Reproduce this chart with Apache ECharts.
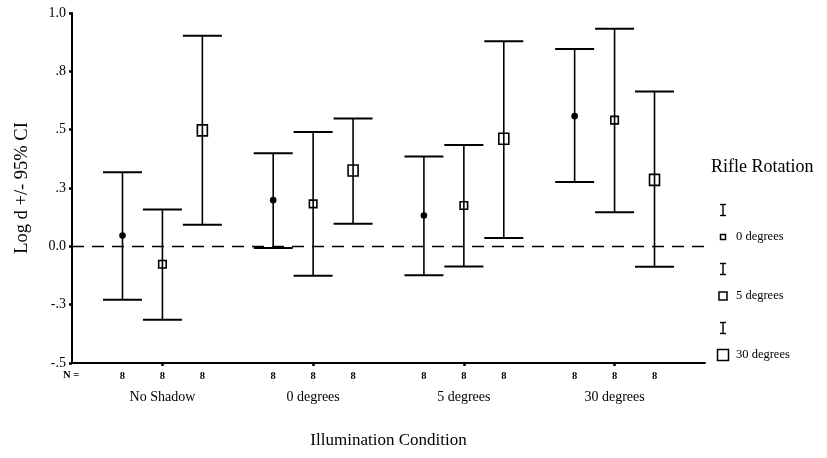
<!DOCTYPE html>
<html><head><meta charset="utf-8">
<script src="https://cdn.jsdelivr.net/npm/echarts@6/dist/echarts.min.js"></script>
<style>html,body{margin:0;padding:0;background:#fff}#c{width:827px;height:458px}</style>
</head><body><div id="c"></div>
<script>
// ---- data ----
const groups = ['No Shadow', '0 degrees', '5 degrees', '30 degrees'];
const rotations = ['0 degrees', '5 degrees', '30 degrees'];
const mean0  = [0.046, 0.198, 0.132, 0.558];
const lower0 = [-0.229, -0.007, -0.124, 0.276];
const upper0 = [0.318, 0.399, 0.385, 0.846];
const mean5  = [-0.077, 0.182, 0.175, 0.541];
const lower5 = [-0.315, -0.126, -0.086, 0.146];
const upper5 = [0.158, 0.490, 0.434, 0.932];
const mean30  = [0.497, 0.325, 0.461, 0.285];
const lower30 = [0.093, 0.097, 0.036, -0.088];
const upper30 = [0.902, 0.548, 0.879, 0.664];
const nCounts0 = [8, 8, 8, 8];
const nCounts5 = [8, 8, 8, 8];
const nCounts30 = [8, 8, 8, 8];
const yTickLabels = ['-.5', '-.3', '0.0', '.3', '.5', '.8', '1.0'];

// ---- build ----
const FONT = "'Liberation Serif','DejaVu Serif',serif";
const seriesSets = [
  [mean0, lower0, upper0, nCounts0],
  [mean5, lower5, upper5, nCounts5],
  [mean30, lower30, upper30, nCounts30]
];
const data = [];
seriesSets.forEach((s, r) => {
  groups.forEach((g, i) => {
    data.push([i + 1, r, s[0][i], s[1][i], s[2][i], s[3][i]]);
  });
});
const OFFSET = 0.265; // within-group spacing in axis units
const CAP = 19.5;

function renderItem(params, api) {
  const g = api.value(0), r = api.value(1);
  const x = g + (r - 1) * OFFSET;
  const pm = api.coord([x, api.value(2)]);
  const pl = api.coord([x, api.value(3)]);
  const pu = api.coord([x, api.value(4)]);
  const pb = api.coord([x, -0.5]);
  const ls = { stroke: '#000', lineWidth: 1.6 };
  const children = [
    { type: 'line', shape: { x1: pu[0], y1: pu[1], x2: pl[0], y2: pl[1] }, style: ls },
    { type: 'line', shape: { x1: pu[0] - CAP, y1: pu[1], x2: pu[0] + CAP, y2: pu[1] }, style: { stroke: '#000', lineWidth: 2 } },
    { type: 'line', shape: { x1: pl[0] - CAP, y1: pl[1], x2: pl[0] + CAP, y2: pl[1] }, style: { stroke: '#000', lineWidth: 2 } },
    { type: 'text', style: { x: pb[0], y: pb[1] + 13, text: String(api.value(5)), textAlign: 'center', textVerticalAlign: 'middle', font: 'bold 10.5px ' + FONT, fill: '#000' } }
  ];
  if (r === 0) {
    children.push({ type: 'circle', shape: { cx: pm[0], cy: pm[1], r: 3.3 }, style: { fill: '#000' } });
  } else {
    const w = r === 1 ? 7.5 : 10, h = r === 1 ? 7.5 : 11;
    children.push({ type: 'rect', shape: { x: pm[0] - w / 2, y: pm[1] - h / 2, width: w, height: h }, style: { fill: 'rgba(255,255,255,0)', stroke: '#000', lineWidth: 1.6 } });
  }
  return { type: 'group', children };
}

// legend graphics
const legendG = [
  { type: 'text', left: 711, top: 158, style: { text: 'Rifle Rotation', font: '18px ' + FONT, fill: '#000' } }
];
const legIY = [210, 269, 328];
const legSY = [237, 296, 355];
const legSize = [5, 8, 11];
rotations.forEach((name, r) => {
  const iy = legIY[r], sy = legSY[r], s = legSize[r];
  legendG.push({ type: 'line', shape: { x1: 723, y1: iy - 5.5, x2: 723, y2: iy + 5.5 }, style: { stroke: '#000', lineWidth: 1.4 } });
  legendG.push({ type: 'line', shape: { x1: 720, y1: iy - 5.5, x2: 726, y2: iy - 5.5 }, style: { stroke: '#000', lineWidth: 1.4 } });
  legendG.push({ type: 'line', shape: { x1: 720, y1: iy + 5.5, x2: 726, y2: iy + 5.5 }, style: { stroke: '#000', lineWidth: 1.4 } });
  legendG.push({ type: 'rect', shape: { x: 723 - s / 2, y: sy - s / 2, width: s, height: s }, style: { fill: '#fff', stroke: '#000', lineWidth: 1.5 } });
  legendG.push({ type: 'text', left: 736, top: sy - 7, style: { text: name, font: '12.5px ' + FONT, fill: '#000' } });
});
legendG.push({ type: 'text', left: 63, top: 370, style: { text: 'N =', font: 'bold 10.5px ' + FONT, fill: '#000' } });

const chart = echarts.init(document.getElementById('c'), null, { renderer: 'canvas' });
chart.setOption({
  animation: false,
  backgroundColor: '#fff',
  grid: { left: 72, right: 122, top: 13, bottom: 95, containLabel: false },
  xAxis: {
    type: 'value', min: 0.4, max: 4.6,
    name: 'Illumination Condition', nameLocation: 'middle', nameGap: 69,
    nameTextStyle: { fontFamily: FONT, fontSize: 17, color: '#000' },
    axisLine: { onZero: false, lineStyle: { color: '#000', width: 2 } },
    axisTick: { show: true, customValues: [1, 2, 3, 4], length: 3, lineStyle: { color: '#000', width: 2.5 } },
    axisLabel: { customValues: [1, 2, 3, 4], formatter: v => groups[Math.round(v) - 1], margin: 27, fontFamily: FONT, fontSize: 14, color: '#000' },
    splitLine: { show: false }
  },
  yAxis: {
    type: 'value', min: -0.5, max: 1.0, interval: 0.25,
    name: 'Log d +/- 95% CI', nameLocation: 'middle', nameGap: 40,
    nameTextStyle: { fontFamily: FONT, fontSize: 18.5, color: '#000' },
    axisLine: { show: true, onZero: false, lineStyle: { color: '#000', width: 2 } },
    axisTick: { show: true, length: 3, lineStyle: { color: '#000', width: 2.5 } },
    axisLabel: { formatter: v => yTickLabels[Math.round((v + 0.5) / 0.25)], margin: 6, fontFamily: FONT, fontSize: 14, color: '#000' },
    splitLine: { show: false }
  },
  graphic: legendG,
  series: [{
    type: 'custom',
    renderItem,
    data,
    clip: false,
    encode: { x: 0, y: [2, 3, 4] },
    markLine: {
      silent: true, symbol: 'none', label: { show: false },
      lineStyle: { color: '#000', width: 1.3, type: [12, 8] },
      data: [{ yAxis: 0 }]
    }
  }]
});
</script>
</body></html>
